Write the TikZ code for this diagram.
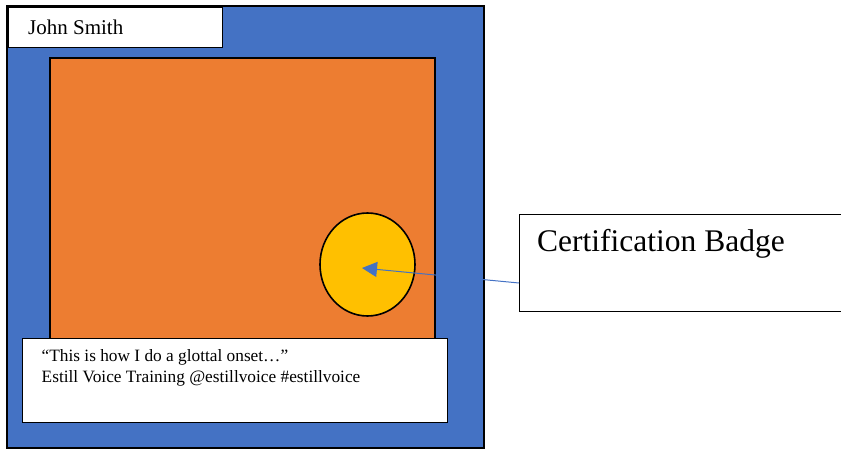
\documentclass[tikz,border=0pt]{standalone}
\usepackage{fontspec}
\setmainfont{Liberation Serif}
\usetikzlibrary{arrows.meta,shapes.geometric}
\definecolor{frameblue}{HTML}{4472C4}
\definecolor{boxorange}{HTML}{ED7D31}
\definecolor{badgeyellow}{HTML}{FFC000}
\begin{document}
\begin{tikzpicture}[x=1pt,y=-1pt,
  whitebox/.style={draw=black, fill=white, line width=1pt},
  lbl/.style={anchor=base west, inner sep=0pt, text=black},
  callline/.style={draw=frameblue, line width=1pt, -{Triangle[length=15pt,width=15pt]}}]
\useasboundingbox (0,0) rectangle (841,449);
% outer blue frame
\filldraw[fill=frameblue, draw=black, line width=2pt] (7,6) rectangle (484,448);
% orange panel
\filldraw[fill=boxorange, draw=black, line width=2pt] (50,58) rectangle (435,345);
% badge
\node[ellipse, draw=black, fill=badgeyellow, line width=1.6pt, minimum width=95pt, minimum height=103pt, inner sep=0pt] (badge) at (367.5,264.5) {};
% callout box
\node[whitebox, anchor=north west, minimum width=330pt, minimum height=97pt, inner sep=0pt] (callout) at (519,214) {};
\node[lbl, font=\fontsize{31.5}{36}\selectfont] (calltext) at (537,252) {Certification Badge};
\coordinate (cstart) at (519,283);
\coordinate (tip) at (362,268);
\draw[callline] (cstart) -- (tip);
% blue strip hides connector
\fill[frameblue] (436.2,268) rectangle (482.8,290);
% name box
\node[whitebox, anchor=north west, minimum width=214pt, minimum height=40pt, inner sep=0pt] (namebox) at (8,7) {};
\node[lbl, font=\fontsize{21}{24}\selectfont] (name) at (28,35) {John Smith};
% caption box
\node[whitebox, anchor=north west, minimum width=425pt, minimum height=84pt, inner sep=0pt] (caption) at (22,338) {};
\node[lbl, font=\fontsize{17.3}{20}\selectfont] (cap1) at (41.5,361.5) {“This is how I do a glottal onset…”};
\node[lbl, font=\fontsize{17.3}{20}\selectfont] (cap2) at (41.5,382) {Estill Voice Training @estillvoice \#estillvoice};
\end{tikzpicture}
\end{document}
